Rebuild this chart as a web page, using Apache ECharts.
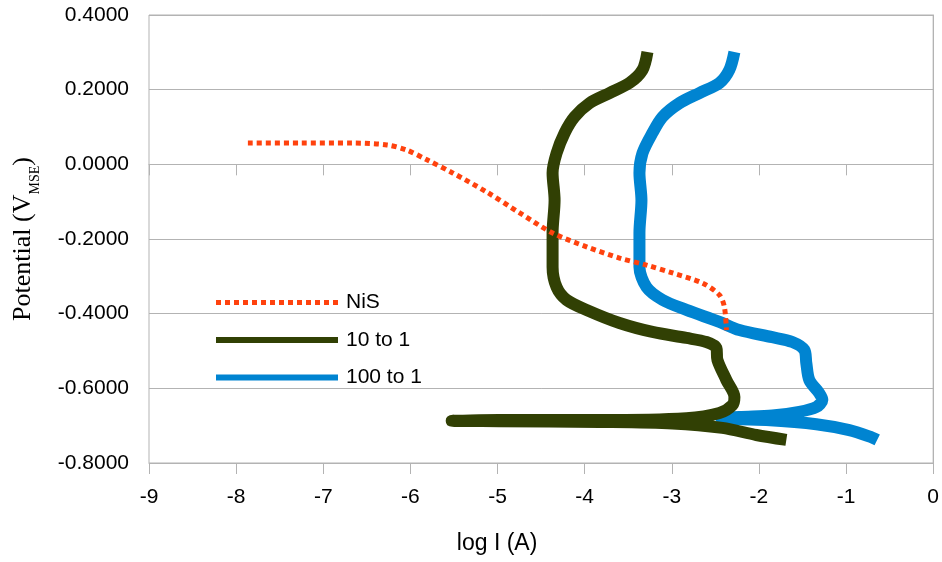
<!DOCTYPE html>
<html><head><meta charset="utf-8">
<script src="https://cdn.jsdelivr.net/npm/echarts@6/dist/echarts.min.js"></script>
<style>html,body{margin:0;padding:0;background:#fff}#c{width:942px;height:562px}</style>
</head><body><div id="c"></div>
<script>
// Axis ranges / ticks
const xMin = -9, xMax = 0, xStep = 1;
const yMin = -0.8, yMax = 0.4, yStep = 0.2;

// Series names
const seriesNames = ['NiS', '10 to 1', '100 to 1'];

// NiS (log I, potential)
const nisData = [
  [-7.865, 0.057], [-7.27, 0.057], [-6.66, 0.057], [-6.27, 0.052], [-6.04, 0.038],
  [-5.81, 0.012], [-5.515, -0.023], [-5.125, -0.074], [-4.746, -0.130], [-4.368, -0.184],
  [-3.978, -0.221], [-3.60, -0.251], [-3.29, -0.270], [-2.992, -0.291], [-2.648, -0.318],
  [-2.453, -0.350], [-2.396, -0.382], [-2.373, -0.444]
];

// 10 to 1
const tenToOneData = [
  [-1.685, -0.738], [-2.03, -0.725], [-2.42, -0.706], [-2.99, -0.694], [-3.83, -0.690],
  [-4.98, -0.688], [-5.526, -0.687],
  [-4.98, -0.685], [-3.83, -0.685], [-2.832, -0.680], [-2.453, -0.666], [-2.304, -0.645],
  [-2.281, -0.623], [-2.373, -0.578], [-2.476, -0.524], [-2.488, -0.492], [-2.602, -0.476],
  [-2.832, -0.465], [-3.222, -0.449], [-3.60, -0.425], [-3.978, -0.390], [-4.208, -0.363],
  [-4.322, -0.329], [-4.368, -0.275], [-4.368, -0.184], [-4.345, -0.096], [-4.368, -0.023],
  [-4.322, 0.030], [-4.230, 0.084], [-4.116, 0.127], [-3.944, 0.164], [-3.715, 0.191],
  [-3.485, 0.218], [-3.336, 0.253], [-3.279, 0.301]
];

// 100 to 1
const hundredToOneData = [
  [-0.642, -0.738], [-0.699, -0.732], [-0.963, -0.712], [-1.341, -0.696], [-1.915, -0.685],
  [-2.43, -0.681],
  [-2.224, -0.677], [-1.846, -0.673], [-1.536, -0.663], [-1.341, -0.650], [-1.272, -0.631],
  [-1.307, -0.613], [-1.421, -0.578], [-1.456, -0.532], [-1.479, -0.497], [-1.616, -0.476],
  [-1.846, -0.463], [-2.224, -0.444], [-2.453, -0.422], [-2.832, -0.390], [-3.107, -0.363],
  [-3.290, -0.329], [-3.371, -0.275], [-3.371, -0.184], [-3.348, -0.096], [-3.371, -0.023],
  [-3.336, 0.030], [-3.222, 0.084], [-3.107, 0.127], [-2.912, 0.164], [-2.683, 0.191],
  [-2.453, 0.218], [-2.339, 0.253], [-2.281, 0.301]
];

const colors = ['#ff420e', '#314004', '#0084d1'];
const gridColor = '#b3b3b3';
const sans = '"Liberation Sans", Arial, sans-serif';
const serif = '"Liberation Serif", "Times New Roman", serif';
const clear = 'rgba(0,0,0,0)';

const chart = echarts.init(document.getElementById('c'), null, {renderer: 'canvas'});
const xCommon = {
  type: 'value', min: xMin, max: xMax, interval: xStep,
  splitLine: {show: false},
  axisLine: {lineStyle: {color: gridColor, width: 1}},
  axisTick: {show: true, length: 11, lineStyle: {color: gridColor}}
};
chart.setOption({
  animation: false,
  backgroundColor: '#fff',
  grid: {left: 149, right: 8, top: 15, bottom: 99, show: true, borderColor: gridColor, borderWidth: 1, containLabel: false},
  xAxis: [
    Object.assign({}, xCommon, {
      position: 'bottom',
      axisLine: {onZero: false, lineStyle: {color: gridColor, width: 1}},
      axisLabel: {fontFamily: sans, fontSize: 21, color: '#000', margin: 24},
      name: 'log I (A)', nameLocation: 'middle', nameGap: 69,
      nameTextStyle: {fontFamily: sans, fontSize: 23, color: '#000', padding: [0, 88, 0, 0]}
    }),
    Object.assign({}, xCommon, {
      position: 'bottom',
      axisLine: {onZero: true, onZeroAxisIndex: 0, lineStyle: {color: gridColor, width: 1}},
      axisLabel: {show: false}
    })
  ],
  yAxis: {
    type: 'value', min: yMin, max: yMax, interval: yStep,
    axisLine: {show: true, lineStyle: {color: gridColor}},
    axisTick: {show: true, length: 11, lineStyle: {color: gridColor}},
    splitLine: {lineStyle: {color: gridColor, width: 1}},
    axisLabel: {fontFamily: sans, fontSize: 21, color: '#000', margin: 20,
      formatter: v => v.toFixed(4)},
    name: '{a|Potential (V}{s|MSE}{a|)}', nameLocation: 'middle', nameGap: 113,
    nameTextStyle: {
      fontFamily: serif, fontSize: 26, color: '#000',
      rich: {
        a: {fontFamily: serif, fontSize: 26, lineHeight: 26, verticalAlign: 'top', color: '#000'},
        s: {fontFamily: serif, fontSize: 14, lineHeight: 14, verticalAlign: 'top', padding: [18, 0, 0, 0], color: '#000'}
      }
    }
  },
  legend: {
    orient: 'vertical', left: 208, top: 287,
    itemWidth: 122, itemHeight: 20, itemGap: 16.5,
    textStyle: {fontFamily: sans, fontSize: 21, color: '#000', padding: [0, 0, 0, 3]},
    data: [
      {name: seriesNames[0], lineStyle: {width: 5}, itemStyle: {color: clear, borderColor: clear, borderWidth: 0}},
      {name: seriesNames[1], lineStyle: {width: 6}, itemStyle: {color: clear, borderColor: clear, borderWidth: 0}},
      {name: seriesNames[2], lineStyle: {width: 6}, itemStyle: {color: clear, borderColor: clear, borderWidth: 0}}
    ]
  },
  series: [
    {name: seriesNames[0], type: 'line', data: nisData, symbol: 'none', smooth: 0.3, z: 5,
      lineStyle: {color: colors[0], width: 5, type: [5, 4], cap: 'butt', join: 'round'},
      itemStyle: {color: colors[0]}},
    {name: seriesNames[1], type: 'line', data: tenToOneData, symbol: 'none', smooth: 0.3, z: 4,
      lineStyle: {color: colors[1], width: 12, cap: 'butt', join: 'round'},
      itemStyle: {color: colors[1]}},
    {name: seriesNames[2], type: 'line', data: hundredToOneData, symbol: 'none', smooth: 0.3, z: 3,
      lineStyle: {color: colors[2], width: 12, cap: 'butt', join: 'round'},
      itemStyle: {color: colors[2]}}
  ]
});
</script></body></html>
